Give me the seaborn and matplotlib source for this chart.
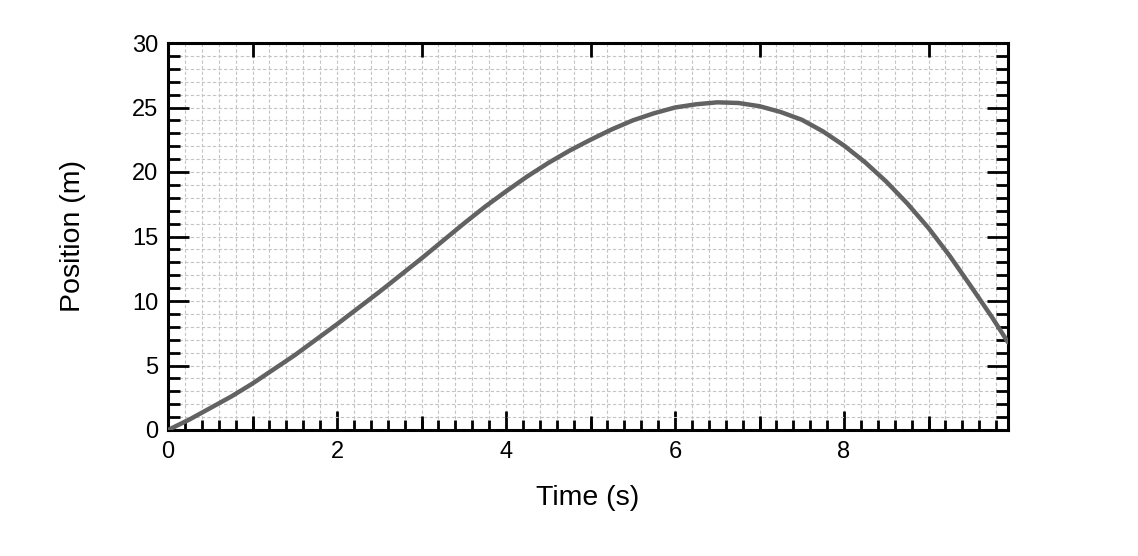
import numpy as np
import pandas as pd
import matplotlib
matplotlib.use("Agg")
import matplotlib.pyplot as plt
from matplotlib.ticker import MultipleLocator, NullLocator
import seaborn as sns

time_s = [0.0, 0.25, 0.5, 0.75, 1.0, 1.25, 1.5, 1.75, 2.0, 2.25, 2.5, 2.75, 3.0, 3.25,
          3.5, 3.75, 4.0, 4.25, 4.5, 4.75, 5.0, 5.25, 5.5, 5.75, 6.0, 6.25, 6.5, 6.75,
          7.0, 7.25, 7.5, 7.75, 8.0, 8.25, 8.5, 8.75, 9.0, 9.25, 9.5, 9.75, 9.94]
position_m = [0.0, 0.8, 1.7, 2.6, 3.6, 4.7, 5.8, 7.0, 8.2, 9.45, 10.7, 12.0, 13.3, 14.65,
              16.0, 17.3, 18.5, 19.65, 20.7, 21.65, 22.5, 23.3, 24.0, 24.55, 25.0, 25.25,
              25.4, 25.35, 25.1, 24.65, 24.05, 23.15, 22.05, 20.75, 19.25, 17.55, 15.65,
              13.5, 11.15, 8.75, 6.8]
odd_seconds = [1, 3, 5, 7, 9]
x_label = "Time (s)"
y_label = "Position (m)"

sns.set_theme(style="white")
plt.rcParams['font.family'] = ['Liberation Sans', 'DejaVu Sans']

df = pd.DataFrame({"t": time_s, "x": position_m})

fig = plt.figure(figsize=(11.38, 5.56), dpi=100)
ax = fig.add_axes([168/1138, 1 - 430/556, 840/1138, 387/556])

sns.lineplot(data=df, x="t", y="x", ax=ax, color="#626262", linewidth=3.2, zorder=5)

ax.set_xlim(0, 9.94)
ax.set_ylim(0, 30)
ax.xaxis.set_major_locator(MultipleLocator(2))
ax.xaxis.set_minor_locator(MultipleLocator(0.2))
ax.yaxis.set_major_locator(MultipleLocator(5))
ax.yaxis.set_minor_locator(MultipleLocator(1))

ax.grid(which="both", color="#c4c4c4", linestyle=(0, (3, 2)), linewidth=0.8)
ax.set_axisbelow(True)

for s in ax.spines.values():
    s.set_visible(True)
    s.set_color("black")
    s.set_linewidth(2.2)

ax.tick_params(axis="both", which="both", direction="in", top=True, right=True,
               bottom=True, left=True, color="black", width=2.0)
ax.tick_params(axis="x", which="major", length=13.5, labelsize=17, pad=8, labelcolor="black")
ax.tick_params(axis="x", which="minor", length=7.2)
ax.tick_params(axis="y", which="major", length=15, labelsize=17, pad=7, labelcolor="black")
ax.tick_params(axis="y", which="minor", length=8.6)

# medium ticks at odd seconds on a twin axis
ax2 = ax.twiny()
ax2.set_xlim(ax.get_xlim())
ax2.set_xticks(odd_seconds)
ax2.xaxis.set_minor_locator(NullLocator())
ax2.tick_params(axis="x", which="major", direction="in", length=10, width=2.0,
                color="black", top=True, bottom=True, labeltop=False, labelbottom=False)
for s in ax2.spines.values():
    s.set_visible(False)

ax.set_xlabel(x_label, fontsize=20.5, color="black")
ax.set_ylabel(y_label, fontsize=20.5, color="black")
ax.xaxis.set_label_coords(0.5, -0.143)
ax.yaxis.set_label_coords(-0.098, 0.5)

fig.savefig("out.png", dpi=100)
